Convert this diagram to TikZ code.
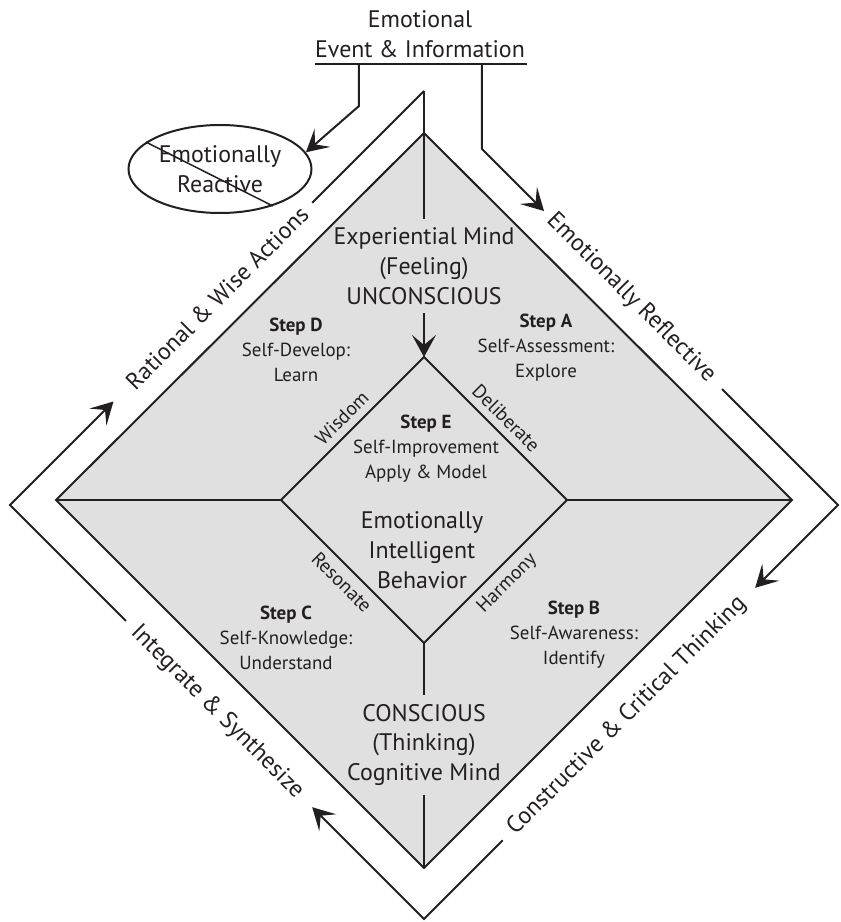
\documentclass[tikz,border=0pt]{standalone}
\usepackage{fontspec}
\setmainfont{PT Sans}
\usetikzlibrary{arrows.meta,calc,shapes.geometric}
\definecolor{inkc}{RGB}{35,31,32}
\definecolor{fillc}{RGB}{224,224,224}
\begin{document}
\begin{tikzpicture}[x=1bp,y=1bp,line width=2bp,color=inkc,
    arr/.style={-{Stealth[length=22bp,width=24bp,inset=10bp]}},
    big/.style={font=\fontsize{24}{30}\selectfont,align=center,inner sep=8bp},
    stepbox/.style={font=\fontsize{19}{25}\selectfont,align=center},
    edgelbl/.style={font=\fontsize{19.5}{22}\selectfont,sloped,midway,inner sep=2bp},
    outlbl/.style={font=\fontsize{24}{28}\selectfont,sloped,midway}]
  \useasboundingbox (-424,-422) rectangle (417,500);
  % diamonds
  \coordinate (gt) at (0,367);  \coordinate (gr) at (368,0);
  \coordinate (gb) at (0,-368); \coordinate (gl) at (-368,0);
  \coordinate (it) at (0,143);  \coordinate (ir) at (143,0);
  \coordinate (ib) at (0,-143); \coordinate (il) at (-143,0);
  \coordinate (pt) at (0,409);  \coordinate (pr) at (414,-5);
  \coordinate (pb) at (0,-419); \coordinate (pl) at (-414,-5);
  \draw [fill=fillc] (gt) -- (gr) -- (gb) -- (gl) -- cycle;
  \draw (it) -- (ir) -- (ib) -- (il) -- cycle;
  \draw (gl) -- (il);
  \draw (ir) -- (gr);
  \path (il) -- (it) node [edgelbl,above=5bp] (wis) {Wisdom};
  \path (it) -- (ir) node [edgelbl,above=5bp] (del) {Deliberate};
  \path (il) -- (ib) node [edgelbl,below=5bp] (res) {Resonate};
  \path (ib) -- (ir) node [edgelbl,below=5bp] (har) {Harmony};
  % texts
  \node [big] (exp) at (0,234) {Experiential Mind\\(Feeling)\\UNCONSCIOUS};
  \node [big] (con) at (0,-245) {CONSCIOUS\\(Thinking)\\Cognitive Mind};
  \node [big] (eib) at (-2,-50) {Emotionally\\Intelligent\\Behavior};
  \node [stepbox] (sd) at (-128,150) {\textbf{Step D}\\Self-Develop:\\Learn};
  \node [stepbox] (sa) at (122,152) {\textbf{Step A}\\Self-Assessment:\\Explore};
  \node [stepbox] (se) at (2,51) {\textbf{Step E}\\Self-Improvement\\Apply \& Model};
  \node [stepbox] (sc) at (-138,-138) {\textbf{Step C}\\Self-Knowledge:\\Understand};
  \node [stepbox] (sb) at (150,-135) {\textbf{Step B}\\Self-Awareness:\\Identify};
  \node [big] (evt) at (-4,466) {Emotional\\Event \& Information};
  \node [big,ellipse,draw,minimum width=183bp,minimum height=88bp,inner sep=0pt]
    (react) at (-204,331) {Emotionally\\Reactive};
  \draw [line width=1.5bp] (react.160) -- (react.-35);
  % outer path
  \path (pl) -- (pt) node [outlbl] (rwa) {Rational \& Wise Actions};
  \path (pt) -- (pr) node [outlbl] (erf) {Emotionally Reflective};
  \path (pb) -- (pr) node [outlbl,pos=.49] (cct) {Constructive \& Critical Thinking};
  \path (pl) -- (pb) node [outlbl] (isy) {Integrate \& Synthesize};
  \coordinate (ul1) at ($(pl)!.25!(pt)$); \coordinate (ul2) at ($(pl)!.73!(pt)$);
  \coordinate (ur0) at ($(pt)!.14!(pr)$); \coordinate (ur1) at ($(pt)!.29!(pr)$);
  \coordinate (ur2) at ($(pt)!.72!(pr)$);
  \coordinate (lr1) at ($(pr)!.20!(pb)$); \coordinate (lr2) at ($(pr)!.81!(pb)$);
  \coordinate (ll1) at ($(pb)!.27!(pl)$); \coordinate (ll2) at ($(pb)!.72!(pl)$);
  \coordinate (bl) at (-109,436); \coordinate (br) at (103,436);
  \coordinate (kl) at (-65,436);  \coordinate (kl2) at (-65,394);
  \coordinate (kr) at (ur0 |- bl);
  \draw (bl) -- (br);
  \draw [arr] (kl) -- (kl2) -- (react.11);
  \draw [arr] (kr) -- (ur0) -- (ur1);
  \draw (pt) -- (ul2);
  \draw [arr] (ur2) -- (pr) -- (lr1);
  \draw [arr] (lr2) -- (pb) -- (ll1);
  \draw [arr] (ll2) -- (pl) -- (ul1);
  \draw (pt) -- (exp);
  \draw [arr] (exp) -- (it);
  \draw (ib) -- (con);
  \draw (con) -- (gb);
\end{tikzpicture}
\end{document}
